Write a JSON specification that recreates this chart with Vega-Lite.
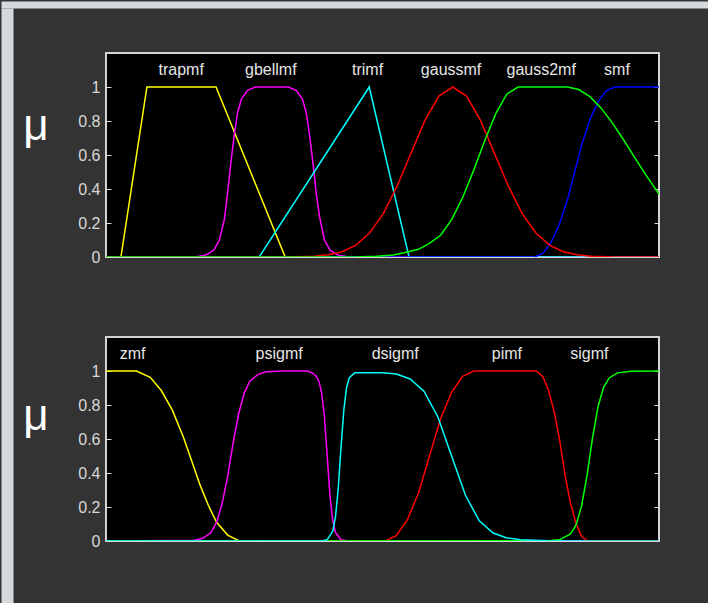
{
  "$schema": "https://vega.github.io/schema/vega-lite/v6.json",
  "background": "#333333",
  "padding": 0,
  "spacing": 0,
  "bounds": "flush",
  "config": {
    "view": {"fill": "black", "stroke": "#d4d4d4", "strokeWidth": 2},
    "axis": {"labelFont": "Liberation Sans", "labelFontSize": 16, "labelColor": "#d8d8d8", "tickColor": "#e0e0e0", "titleFont": "Liberation Sans", "titleFontWeight": "normal", "titleColor": "white", "grid": false}
  },
  "datasets": {
    "blank": [],
    "curves": [
      {"p":1,"m":"trapmf","x":0,"y":0},{"p":1,"m":"trapmf","x":0.27,"y":0},{"p":1,"m":"trapmf","x":0.74,"y":1},{"p":1,"m":"trapmf","x":1.99,"y":1},{"p":1,"m":"trapmf","x":3.24,"y":0},{"p":1,"m":"trapmf","x":10,"y":0},
      {"p":1,"m":"gbellmf","x":0,"y":0},{"p":1,"m":"gbellmf","x":1.6,"y":0},{"p":1,"m":"gbellmf","x":1.8,"y":0.01},{"p":1,"m":"gbellmf","x":1.95,"y":0.04},{"p":1,"m":"gbellmf","x":2.05,"y":0.1},{"p":1,"m":"gbellmf","x":2.14,"y":0.22},{"p":1,"m":"gbellmf","x":2.2,"y":0.38},{"p":1,"m":"gbellmf","x":2.26,"y":0.56},{"p":1,"m":"gbellmf","x":2.32,"y":0.72},{"p":1,"m":"gbellmf","x":2.38,"y":0.85},{"p":1,"m":"gbellmf","x":2.45,"y":0.93},{"p":1,"m":"gbellmf","x":2.56,"y":0.98},{"p":1,"m":"gbellmf","x":2.7,"y":1},{"p":1,"m":"gbellmf","x":3.3,"y":1},{"p":1,"m":"gbellmf","x":3.44,"y":0.98},{"p":1,"m":"gbellmf","x":3.55,"y":0.93},{"p":1,"m":"gbellmf","x":3.62,"y":0.85},{"p":1,"m":"gbellmf","x":3.68,"y":0.72},{"p":1,"m":"gbellmf","x":3.74,"y":0.56},{"p":1,"m":"gbellmf","x":3.8,"y":0.38},{"p":1,"m":"gbellmf","x":3.86,"y":0.24},{"p":1,"m":"gbellmf","x":3.95,"y":0.1},{"p":1,"m":"gbellmf","x":4.05,"y":0.04},{"p":1,"m":"gbellmf","x":4.2,"y":0.01},{"p":1,"m":"gbellmf","x":4.4,"y":0},{"p":1,"m":"gbellmf","x":10,"y":0},
      {"p":1,"m":"trimf","x":0,"y":0},{"p":1,"m":"trimf","x":2.77,"y":0},{"p":1,"m":"trimf","x":4.76,"y":1},{"p":1,"m":"trimf","x":5.48,"y":0},{"p":1,"m":"trimf","x":10,"y":0},
      {"p":1,"m":"smf","x":0,"y":0},{"p":1,"m":"smf","x":7.75,"y":0},{"p":1,"m":"smf","x":7.9,"y":0.021},{"p":1,"m":"smf","x":8.05,"y":0.086},{"p":1,"m":"smf","x":8.2,"y":0.193},{"p":1,"m":"smf","x":8.35,"y":0.343},{"p":1,"m":"smf","x":8.475,"y":0.5},{"p":1,"m":"smf","x":8.6,"y":0.657},{"p":1,"m":"smf","x":8.75,"y":0.807},{"p":1,"m":"smf","x":8.9,"y":0.914},{"p":1,"m":"smf","x":9.05,"y":0.979},{"p":1,"m":"smf","x":9.2,"y":1},{"p":1,"m":"smf","x":10,"y":1},
      {"p":1,"m":"gaussmf","x":0,"y":0},{"p":1,"m":"gaussmf","x":3.3,"y":0},{"p":1,"m":"gaussmf","x":3.77,"y":0.005},{"p":1,"m":"gaussmf","x":4.02,"y":0.013},{"p":1,"m":"gaussmf","x":4.27,"y":0.031},{"p":1,"m":"gaussmf","x":4.52,"y":0.07},{"p":1,"m":"gaussmf","x":4.77,"y":0.143},{"p":1,"m":"gaussmf","x":5.02,"y":0.258},{"p":1,"m":"gaussmf","x":5.27,"y":0.421},{"p":1,"m":"gaussmf","x":5.52,"y":0.614},{"p":1,"m":"gaussmf","x":5.77,"y":0.805},{"p":1,"m":"gaussmf","x":6.02,"y":0.947},{"p":1,"m":"gaussmf","x":6.27,"y":1},{"p":1,"m":"gaussmf","x":6.52,"y":0.947},{"p":1,"m":"gaussmf","x":6.77,"y":0.805},{"p":1,"m":"gaussmf","x":7.02,"y":0.614},{"p":1,"m":"gaussmf","x":7.27,"y":0.421},{"p":1,"m":"gaussmf","x":7.52,"y":0.258},{"p":1,"m":"gaussmf","x":7.77,"y":0.143},{"p":1,"m":"gaussmf","x":8.02,"y":0.07},{"p":1,"m":"gaussmf","x":8.27,"y":0.031},{"p":1,"m":"gaussmf","x":8.52,"y":0.013},{"p":1,"m":"gaussmf","x":8.77,"y":0.005},{"p":1,"m":"gaussmf","x":9.2,"y":0},{"p":1,"m":"gaussmf","x":10,"y":0},
      {"p":1,"m":"gauss2mf","x":0,"y":0},{"p":1,"m":"gauss2mf","x":4.5,"y":0},{"p":1,"m":"gauss2mf","x":4.9,"y":0.004},{"p":1,"m":"gauss2mf","x":5.2,"y":0.012},{"p":1,"m":"gauss2mf","x":5.45,"y":0.03},{"p":1,"m":"gauss2mf","x":5.65,"y":0.045},{"p":1,"m":"gauss2mf","x":5.85,"y":0.08},{"p":1,"m":"gauss2mf","x":6.05,"y":0.128},{"p":1,"m":"gauss2mf","x":6.25,"y":0.22},{"p":1,"m":"gauss2mf","x":6.45,"y":0.35},{"p":1,"m":"gauss2mf","x":6.65,"y":0.511},{"p":1,"m":"gauss2mf","x":6.85,"y":0.685},{"p":1,"m":"gauss2mf","x":7.05,"y":0.845},{"p":1,"m":"gauss2mf","x":7.25,"y":0.959},{"p":1,"m":"gauss2mf","x":7.45,"y":1},{"p":1,"m":"gauss2mf","x":8.35,"y":1},{"p":1,"m":"gauss2mf","x":8.55,"y":0.985},{"p":1,"m":"gauss2mf","x":8.75,"y":0.943},{"p":1,"m":"gauss2mf","x":8.95,"y":0.877},{"p":1,"m":"gauss2mf","x":9.15,"y":0.792},{"p":1,"m":"gauss2mf","x":9.35,"y":0.694},{"p":1,"m":"gauss2mf","x":9.55,"y":0.591},{"p":1,"m":"gauss2mf","x":9.75,"y":0.489},{"p":1,"m":"gauss2mf","x":10,"y":0.37},
      {"p":2,"m":"zmf","x":0,"y":1},{"p":2,"m":"zmf","x":0.55,"y":1},{"p":2,"m":"zmf","x":0.8,"y":0.963},{"p":2,"m":"zmf","x":1.0,"y":0.885},{"p":2,"m":"zmf","x":1.2,"y":0.77},{"p":2,"m":"zmf","x":1.4,"y":0.61},{"p":2,"m":"zmf","x":1.55,"y":0.47},{"p":2,"m":"zmf","x":1.7,"y":0.33},{"p":2,"m":"zmf","x":1.85,"y":0.21},{"p":2,"m":"zmf","x":2.0,"y":0.11},{"p":2,"m":"zmf","x":2.2,"y":0.035},{"p":2,"m":"zmf","x":2.4,"y":0.002},{"p":2,"m":"zmf","x":2.45,"y":0},{"p":2,"m":"zmf","x":10,"y":0},
      {"p":2,"m":"psigmf","x":0,"y":0},{"p":2,"m":"psigmf","x":1.6,"y":0.005},{"p":2,"m":"psigmf","x":1.75,"y":0.016},{"p":2,"m":"psigmf","x":1.9,"y":0.05},{"p":2,"m":"psigmf","x":2.0,"y":0.11},{"p":2,"m":"psigmf","x":2.1,"y":0.22},{"p":2,"m":"psigmf","x":2.2,"y":0.38},{"p":2,"m":"psigmf","x":2.3,"y":0.58},{"p":2,"m":"psigmf","x":2.4,"y":0.75},{"p":2,"m":"psigmf","x":2.5,"y":0.87},{"p":2,"m":"psigmf","x":2.6,"y":0.94},{"p":2,"m":"psigmf","x":2.75,"y":0.98},{"p":2,"m":"psigmf","x":2.9,"y":0.995},{"p":2,"m":"psigmf","x":3.2,"y":1},{"p":2,"m":"psigmf","x":3.65,"y":1},{"p":2,"m":"psigmf","x":3.75,"y":0.985},{"p":2,"m":"psigmf","x":3.8,"y":0.97},{"p":2,"m":"psigmf","x":3.85,"y":0.94},{"p":2,"m":"psigmf","x":3.9,"y":0.87},{"p":2,"m":"psigmf","x":3.95,"y":0.73},{"p":2,"m":"psigmf","x":4.0,"y":0.5},{"p":2,"m":"psigmf","x":4.05,"y":0.27},{"p":2,"m":"psigmf","x":4.1,"y":0.12},{"p":2,"m":"psigmf","x":4.15,"y":0.05},{"p":2,"m":"psigmf","x":4.25,"y":0.007},{"p":2,"m":"psigmf","x":4.4,"y":0},{"p":2,"m":"psigmf","x":10,"y":0},
      {"p":2,"m":"pimf","x":0,"y":0},{"p":2,"m":"pimf","x":5.05,"y":0},{"p":2,"m":"pimf","x":5.25,"y":0.031},{"p":2,"m":"pimf","x":5.45,"y":0.125},{"p":2,"m":"pimf","x":5.65,"y":0.281},{"p":2,"m":"pimf","x":5.85,"y":0.5},{"p":2,"m":"pimf","x":6.05,"y":0.719},{"p":2,"m":"pimf","x":6.25,"y":0.875},{"p":2,"m":"pimf","x":6.45,"y":0.969},{"p":2,"m":"pimf","x":6.65,"y":1},{"p":2,"m":"pimf","x":7.78,"y":1},{"p":2,"m":"pimf","x":7.9,"y":0.967},{"p":2,"m":"pimf","x":8.0,"y":0.888},{"p":2,"m":"pimf","x":8.1,"y":0.766},{"p":2,"m":"pimf","x":8.2,"y":0.6},{"p":2,"m":"pimf","x":8.3,"y":0.389},{"p":2,"m":"pimf","x":8.4,"y":0.222},{"p":2,"m":"pimf","x":8.5,"y":0.102},{"p":2,"m":"pimf","x":8.6,"y":0.028},{"p":2,"m":"pimf","x":8.71,"y":0},{"p":2,"m":"pimf","x":10,"y":0},
      {"p":2,"m":"sigmf","x":0,"y":0},{"p":2,"m":"sigmf","x":8.0,"y":0.002},{"p":2,"m":"sigmf","x":8.2,"y":0.007},{"p":2,"m":"sigmf","x":8.4,"y":0.041},{"p":2,"m":"sigmf","x":8.5,"y":0.095},{"p":2,"m":"sigmf","x":8.6,"y":0.206},{"p":2,"m":"sigmf","x":8.7,"y":0.389},{"p":2,"m":"sigmf","x":8.8,"y":0.611},{"p":2,"m":"sigmf","x":8.9,"y":0.794},{"p":2,"m":"sigmf","x":9.0,"y":0.905},{"p":2,"m":"sigmf","x":9.1,"y":0.959},{"p":2,"m":"sigmf","x":9.25,"y":0.989},{"p":2,"m":"sigmf","x":9.5,"y":0.999},{"p":2,"m":"sigmf","x":10,"y":1},
      {"p":2,"m":"dsigmf","x":0,"y":0},{"p":2,"m":"dsigmf","x":3.9,"y":0},{"p":2,"m":"dsigmf","x":4.0,"y":0.008},{"p":2,"m":"dsigmf","x":4.1,"y":0.057},{"p":2,"m":"dsigmf","x":4.15,"y":0.142},{"p":2,"m":"dsigmf","x":4.2,"y":0.31},{"p":2,"m":"dsigmf","x":4.25,"y":0.55},{"p":2,"m":"dsigmf","x":4.3,"y":0.769},{"p":2,"m":"dsigmf","x":4.35,"y":0.9},{"p":2,"m":"dsigmf","x":4.4,"y":0.961},{"p":2,"m":"dsigmf","x":4.5,"y":0.99},{"p":2,"m":"dsigmf","x":5.0,"y":0.99},{"p":2,"m":"dsigmf","x":5.25,"y":0.982},{"p":2,"m":"dsigmf","x":5.5,"y":0.953},{"p":2,"m":"dsigmf","x":5.75,"y":0.881},{"p":2,"m":"dsigmf","x":6.0,"y":0.731},{"p":2,"m":"dsigmf","x":6.25,"y":0.5},{"p":2,"m":"dsigmf","x":6.5,"y":0.269},{"p":2,"m":"dsigmf","x":6.75,"y":0.119},{"p":2,"m":"dsigmf","x":7.0,"y":0.047},{"p":2,"m":"dsigmf","x":7.25,"y":0.018},{"p":2,"m":"dsigmf","x":7.5,"y":0.007},{"p":2,"m":"dsigmf","x":8.0,"y":0.001},{"p":2,"m":"dsigmf","x":10,"y":0}
    ],
    "labels": [
      {"p":1,"t":"trapmf","x":1.36,"y":1.1},{"p":1,"t":"gbellmf","x":2.98,"y":1.1},{"p":1,"t":"trimf","x":4.73,"y":1.1},{"p":1,"t":"gaussmf","x":6.24,"y":1.1},{"p":1,"t":"gauss2mf","x":7.87,"y":1.1},{"p":1,"t":"smf","x":9.24,"y":1.1},
      {"p":2,"t":"zmf","x":0.48,"y":1.1},{"p":2,"t":"psigmf","x":3.13,"y":1.1},{"p":2,"t":"dsigmf","x":5.23,"y":1.1},{"p":2,"t":"pimf","x":7.25,"y":1.1},{"p":2,"t":"sigmf","x":8.74,"y":1.1}
    ]
  },
  "vconcat": [
    {
      "width": 708, "height": 7,
      "view": {"fill": "#d6d9dc", "stroke": "transparent"},
      "data": {"name": "blank"},
      "mark": {"type": "point"}
    },
    {
      "spacing": 93,
      "bounds": "flush",
      "hconcat": [
        {
          "width": 12, "height": 596,
          "view": {"fill": "#d6d9dc", "stroke": "transparent"},
          "data": {"name": "blank"},
          "mark": {"type": "point"}
        },
        {
          "spacing": 0,
          "bounds": "flush",
          "vconcat": [
            {
              "width": 553, "height": 45,
              "view": {"fill": "transparent", "stroke": "transparent"},
              "data": {"name": "blank"},
              "mark": {"type": "point"}
            },
            {
              "width": 553, "height": 204,
              "resolve": {"axis": {"y": "independent"}},
              "layer": [
                {
                  "data": {"name": "curves"},
                  "transform": [{"filter": "datum.p == 1"}],
                  "mark": {"type": "line", "strokeWidth": 1.5, "clip": true},
                  "encoding": {
                    "x": {"field": "x", "type": "quantitative", "scale": {"domain": [0, 10], "nice": false}, "axis": null},
                    "y": {"field": "y", "type": "quantitative", "scale": {"domain": [0, 1.2], "nice": false}, "axis": {"orient": "left", "values": [0, 0.2, 0.4, 0.6, 0.8, 1], "format": "~g", "domain": false, "tickSize": -5, "labelPadding": 11, "title": "μ", "titleAngle": 0, "titleFontSize": 44, "titleAlign": "right", "titleBaseline": "alphabetic", "titleX": -58, "titleY": 86}},
                    "color": {"field": "m", "type": "nominal", "legend": null, "scale": {"domain": ["trapmf","gbellmf","trimf","gaussmf","gauss2mf","smf","zmf","psigmf","dsigmf","pimf","sigmf"], "range": ["#ffff00","#ff00ff","#00ffff","#ff0000","#00ff00","#0000ff","#ffff00","#ff00ff","#00ffff","#ff0000","#00ff00"]}}
                  }
                },
                {
                  "data": {"name": "labels"},
                  "transform": [{"filter": "datum.p == 1"}],
                  "mark": {"type": "text", "font": "Liberation Sans", "fontSize": 16, "color": "#e6e6e6", "align": "center", "baseline": "middle"},
                  "encoding": {
                    "x": {"field": "x", "type": "quantitative", "scale": {"domain": [0, 10], "nice": false}, "axis": null},
                    "y": {"field": "y", "type": "quantitative", "scale": {"domain": [0, 1.2], "nice": false}, "axis": {"orient": "right", "values": [0, 0.2, 0.4, 0.6, 0.8, 1], "labels": false, "domain": false, "tickSize": -5, "title": null}},
                    "text": {"field": "t"}
                  }
                }
              ]
            },
            {
              "width": 553, "height": 80,
              "view": {"fill": "transparent", "stroke": "transparent"},
              "data": {"name": "blank"},
              "mark": {"type": "point"}
            },
            {
              "width": 553, "height": 204,
              "resolve": {"axis": {"y": "independent"}},
              "layer": [
                {
                  "data": {"name": "curves"},
                  "transform": [{"filter": "datum.p == 2"}],
                  "mark": {"type": "line", "strokeWidth": 1.5, "clip": true},
                  "encoding": {
                    "x": {"field": "x", "type": "quantitative", "scale": {"domain": [0, 10], "nice": false}, "axis": null},
                    "y": {"field": "y", "type": "quantitative", "scale": {"domain": [0, 1.2], "nice": false}, "axis": {"orient": "left", "values": [0, 0.2, 0.4, 0.6, 0.8, 1], "format": "~g", "domain": false, "tickSize": -5, "labelPadding": 11, "title": "μ", "titleAngle": 0, "titleFontSize": 44, "titleAlign": "right", "titleBaseline": "alphabetic", "titleX": -58, "titleY": 92}},
                    "color": {"field": "m", "type": "nominal", "legend": null, "scale": {"domain": ["trapmf","gbellmf","trimf","gaussmf","gauss2mf","smf","zmf","psigmf","dsigmf","pimf","sigmf"], "range": ["#ffff00","#ff00ff","#00ffff","#ff0000","#00ff00","#0000ff","#ffff00","#ff00ff","#00ffff","#ff0000","#00ff00"]}}
                  }
                },
                {
                  "data": {"name": "labels"},
                  "transform": [{"filter": "datum.p == 2"}],
                  "mark": {"type": "text", "font": "Liberation Sans", "fontSize": 16, "color": "#e6e6e6", "align": "center", "baseline": "middle"},
                  "encoding": {
                    "x": {"field": "x", "type": "quantitative", "scale": {"domain": [0, 10], "nice": false}, "axis": null},
                    "y": {"field": "y", "type": "quantitative", "scale": {"domain": [0, 1.2], "nice": false}, "axis": {"orient": "right", "values": [0, 0.2, 0.4, 0.6, 0.8, 1], "labels": false, "domain": false, "tickSize": -5, "title": null}},
                    "text": {"field": "t"}
                  }
                }
              ]
            }
          ]
        }
      ]
    }
  ]
}
